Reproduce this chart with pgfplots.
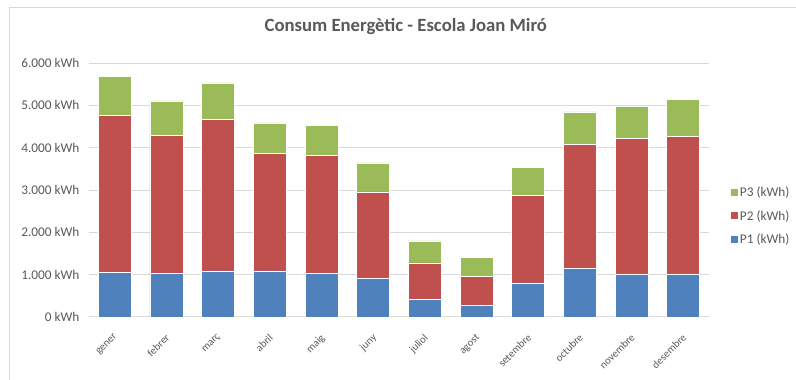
\documentclass[border=0pt]{standalone}
\usepackage{pgfplots}
\pgfplotsset{compat=1.18}
\usepackage{fontspec}
\setmainfont{Carlito}

\definecolor{pOne}{HTML}{4F81BD}
\definecolor{pTwo}{HTML}{C0504D}
\definecolor{pThree}{HTML}{9BBB59}
\definecolor{txtgray}{HTML}{595959}
\definecolor{gridgray}{HTML}{D9D9D9}

\begin{document}
\begin{tikzpicture}
\useasboundingbox (0pt,0pt) rectangle (796pt,380pt);
% frame of the chart area
\draw[gridgray, line width=1pt] (9pt,0pt) -- (9pt,372pt) -- (800pt,372pt);
\begin{axis}[
  at={(89pt,63pt)}, anchor=south west,
  scale only axis,
  width=620pt, height=254pt,
  ybar stacked,
  bar width=33pt,
  xmin=-0.5, xmax=11.5,
  ymin=0, ymax=6000,
  enlargelimits=false,
  xtick={0,...,11},
  xticklabels={gener,febrer,març,abril,maig,juny,juliol,agost,setembre,octubre,novembre,desembre},
  x tick label style={rotate=45, anchor=north east, font=\fontsize{10.7}{12}\selectfont, text=txtgray, xshift=-9pt, yshift=-7pt},
  ytick={0,1000,...,6000},
  yticklabel={\pgfmathprintnumber{\tick}~kWh},
  /pgf/number format/.cd, 1000 sep={.}, assume math mode=true, /pgfplots/.cd,
  y tick label style={font=\fontsize{13.3}{15}\selectfont, text=txtgray, xshift=-6pt},
  major tick length=0pt,
  ymajorgrids,
  grid style={gridgray, line width=1pt},
  axis y line*=left,
  y axis line style={draw=none},
  axis x line*=bottom,
  x axis line style={gridgray, line width=1pt, -},
  title={Consum Energètic - Escola Joan Miró},
  title style={at={(0.511,1)}, anchor=center, yshift=30pt, font=\fontsize{18.7}{22}\bfseries\selectfont, text=txtgray},
  reverse legend,
  legend style={at={(1.035,0.398)}, anchor=west, draw=none, fill=none,
    font=\fontsize{13.3}{15}\selectfont, text=txtgray,
    row sep=8pt, inner sep=0pt},
  legend cell align=left,
  legend image code/.code={\fill[#1, draw=none] (0pt,-3.5pt) rectangle (7pt,3.5pt);},
]
\addplot[fill=pOne, draw=white, line width=0.6pt] coordinates {
 (0,1054) (1,1031) (2,1087) (3,1087) (4,1031) (5,905)
 (6,409) (7,274) (8,804) (9,1142) (10,1007) (11,1007)};
\addplot[fill=pTwo, draw=white, line width=0.6pt] coordinates {
 (0,3712) (1,3262) (2,3577) (3,2781) (4,2789) (5,2050)
 (6,868) (7,686) (8,2071) (9,2938) (10,3208) (11,3263)};
\addplot[fill=pThree, draw=white, line width=0.6pt] coordinates {
 (0,924) (1,813) (2,868) (3,718) (4,710) (5,685)
 (6,519) (7,442) (8,655) (9,766) (10,765) (11,867)};
\legend{P1 (kWh),P2 (kWh),P3 (kWh)}
\end{axis}
\end{tikzpicture}
\end{document}
